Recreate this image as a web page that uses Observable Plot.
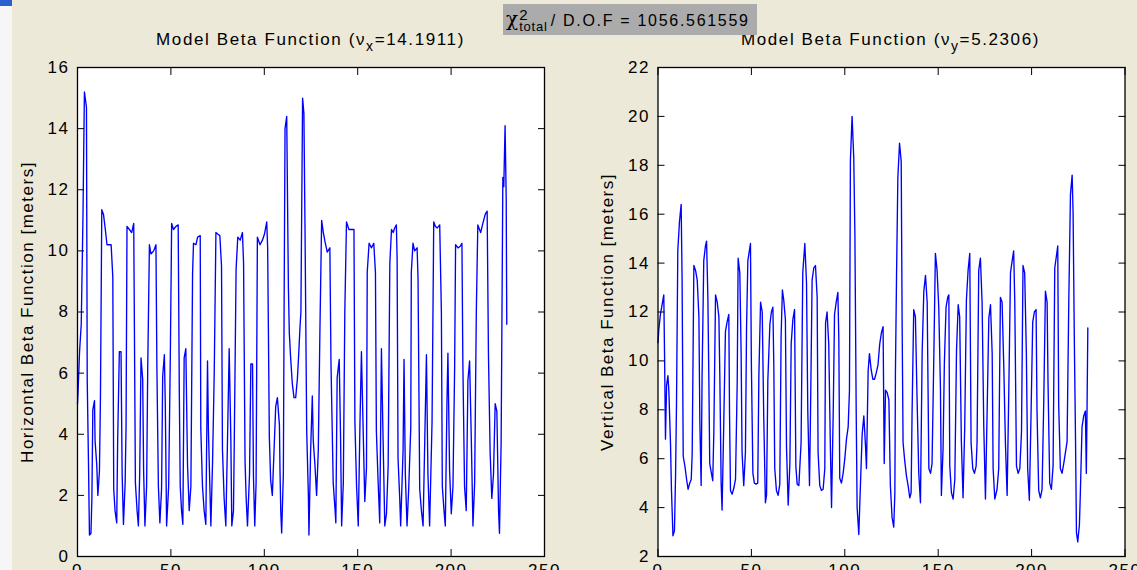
<!DOCTYPE html>
<html>
<head>
<meta charset="utf-8">
<script src="https://cdn.jsdelivr.net/npm/d3@7"></script>
<script src="https://cdn.jsdelivr.net/npm/@observablehq/plot@0.6"></script>
<style>
  html, body { margin: 0; padding: 0; overflow: hidden; }
  #fig { position: relative; width: 1137px; height: 570px; overflow: hidden; background: #ECE9D8;
         font-family: "Liberation Sans", Arial, sans-serif; color: #000; }
  .panel { position: absolute; top: 0; }
  .title { position: absolute; top: 30px; font-size: 17px; letter-spacing: 1.6px; text-align: center; white-space: nowrap; line-height: 20px; }
  .title sub { font-size: 14px; vertical-align: -6px; line-height: 0; }
  #chibox { position: absolute; left: 503px; top: 4px; width: 254px; height: 31px; background: #ababab;
            font-size: 16px; letter-spacing: 1.7px; white-space: nowrap; line-height: 31px; z-index: 5; }
  #chibox .chi { font-family: "DejaVu Serif", serif; font-size: 20px; margin-left: 3px; letter-spacing: 0; }
  #chibox .ss { display: inline-block; vertical-align: middle; line-height: 12px; font-size: 13px; margin-right: 3px; margin-left: 1px; position: relative; top: -1px; letter-spacing: 0.8px; }
  #chibox .ss span { display: block; }
  #chibox .ss span:first-child { font-size: 15px; }
  #leftstrip { position: absolute; left: 0; top: 0; width: 12px; height: 570px; background: #f6f6f6; }
  #bluecorner { position: absolute; left: 0; top: 0; width: 12px; height: 6px; background: #2a5fd0; }
</style>
</head>
<body>
<div id="fig">
  <div id="leftstrip"></div>
  <div id="bluecorner"></div>
  <div id="left" class="panel" style="left:0px"></div>
  <div id="right" class="panel" style="left:580px"></div>
  <div class="title" style="left:77px; width:467px;">Model Beta Function (ν<sub>x</sub>=14.1911)</div>
  <div class="title" style="left:657px; width:467px;">Model Beta Function (ν<sub>y</sub>=5.2306)</div>
  <div id="chibox"><span class="chi">χ</span><span class="ss"><span>2</span><span>total</span></span>/ D.O.F = 1056.561559</div>
</div>
<script>
// ---- data ----
const xTicks = [0, 50, 100, 150, 200, 250];
const hTicks = [0, 2, 4, 6, 8, 10, 12, 14, 16];
const vTicks = [2, 4, 6, 8, 10, 12, 14, 16, 18, 20, 22];

// Horizontal beta function: position index and value [m]
const hIndex = [0,0.3,0.6,1.1,2.0,2.9,3.7,4.8,5.2,5.9,6.4,7.2,7.7,8.2,9.1,9.4,10.3,10.9,11.75,12.3,
13.0,13.9,14.9,15.8,17.0,18.0,18.9,19.4,20.1,21.0,21.5,22.4,23.3,23.9,24.6,25.5,26.0,
26.5,27.8,29.0,30.1,30.4,31.0,31.9,32.6,33.3,34.0,34.9,35.4,36.1,37.0,37.6,
38.5,39.3,40.8,42.0,42.5,43.3,44.1,45.0,45.6,46.5,47.0,47.7,48.8,49.7,
50.4,51.4,52.7,53.9,54.5,55.0,55.7,56.4,57.1,58.0,58.9,59.8,60.7,61.6,
62.1,63.4,64.3,65.7,66.0,66.9,67.8,68.7,69.6,70.1,71.4,72.3,73.2,
74.1,75.0,76.2,77.1,77.6,78.5,79.4,80.3,81.2,82.1,82.6,83.5,83.9,
84.9,85.8,87.1,88.3,88.9,89.7,90.3,91.0,92.1,92.8,93.7,94.2,94.9,95.6,
96.3,97.7,99.0,100.1,101.3,101.8,102.7,103.4,104.3,105.2,106.1,107.0,108.1,108.4,108.8,109.3,110.2,110.6,
111.1,112.0,112.9,113.4,114.1,115.0,115.9,116.8,117.7,118.4,119.1,119.6,
120.5,121.2,121.8,122.7,123.6,123.9,124.8,125.7,126.2,127.1,128.0,128.9,129.8,
130.7,131.6,132.5,133.7,135.1,135.7,136.9,137.8,138.3,139.0,140.1,140.8,141.4,142.3,143.1,
144.0,145.3,146.7,148.0,148.5,149.4,150.3,151.2,152.0,152.9,153.8,154.7,
155.1,156.1,157.4,158.6,159.5,160.0,160.9,161.8,162.7,163.6,164.5,165.4,166.3,
167.2,168.1,169.0,169.8,170.7,171.1,171.6,172.5,173.0,174.3,174.8,175.5,176.4,177.3,178.4,
178.7,179.6,180.5,181.8,182.3,183.2,184.1,185.0,185.9,186.8,187.6,188.5,189.8,
190.7,191.6,192.6,193.9,194.8,195.3,196.2,196.9,197.8,198.3,199.2,200.1,201.0,201.9,
202.4,203.7,204.9,205.8,206.3,207.2,208.1,209.0,209.9,210.8,211.7,212.6,213.5,
214.3,215.8,217.0,218.3,219.3,220.0,220.9,221.8,222.7,223.6,224.5,225.4,225.9,226.8,
227.7,228.2,228.9,229.5,229.8];
const hBeta = [5.0,5.4,5.9,6.7,7.6,11.0,15.2,14.7,5.8,3.0,0.7,0.75,1.9,4.8,5.1,3.8,3.0,2.0,2.8,5.3,
11.35,11.2,10.7,10.2,10.2,10.2,9.15,2.2,1.5,1.1,3.8,6.7,6.7,2.7,1.05,2.4,4.3,
10.8,10.7,10.6,10.9,8.1,2.4,1.5,1.0,2.7,6.5,5.8,2.8,1.0,2.3,6.2,
10.2,9.9,10.0,10.2,6.2,2.3,1.1,2.2,5.9,6.6,5.0,1.0,2.3,6.6,
10.9,10.7,10.8,10.85,5.4,2.3,1.5,1.05,6.5,6.8,3.0,1.5,2.3,9.25,
10.25,10.2,10.45,10.5,4.2,2.3,1.5,1.05,6.4,4.1,1.0,3.1,6.0,
10.6,10.55,10.5,9.5,3.5,1.9,1.0,3.8,6.8,3.8,1.0,1.5,3.6,
9.4,10.45,10.35,10.6,9.6,3.1,1.9,1.0,2.7,6.3,6.3,2.6,1.0,2.4,
10.45,10.2,10.35,10.55,10.95,10.1,3.9,2.5,2.0,3.45,4.9,5.2,4.3,2.85,1.5,0.77,2.7,8.1,
14.0,14.4,8.8,7.3,6.5,5.65,5.2,5.2,5.8,6.6,7.5,8.0,
15.0,14.5,10.7,4.1,2.0,0.7,3.45,5.25,3.8,3.0,2.0,3.45,7.5,
11.0,10.6,10.3,9.96,10.1,6.3,2.4,1.6,1.1,5.85,6.45,4.0,1.0,2.4,8.0,
10.95,10.7,10.7,10.7,4.4,2.3,1.0,4.3,6.7,4.2,1.8,2.9,
9.3,10.25,10.1,10.25,9.3,4.1,2.5,1.1,6.8,3.8,1.0,1.4,2.95,
9.6,10.7,10.6,10.75,10.85,9.75,3.2,1.9,1.0,3.5,6.45,2.7,1.0,2.2,4.2,
9.3,10.25,10.0,10.1,9.1,2.2,1.5,1.0,3.8,6.6,2.7,1.0,4.4,
10.95,10.8,10.75,10.85,8.0,2.3,1.5,1.0,5.1,6.65,2.8,1.4,2.3,6.2,
10.2,10.1,10.15,10.25,6.3,2.3,1.5,5.75,6.4,3.9,1.0,2.4,8.0,
10.85,10.6,10.9,11.2,11.3,6.6,3.4,1.9,2.7,5.0,4.75,1.5,0.76,3.8,
12.4,12.1,14.1,11.7,7.6];

// Vertical beta function: position index and value [m]
const vIndex = [0,0.45,1.3,2.2,3.1,3.5,4.0,4.6,5.3,5.8,6.7,7.2,8.0,8.8,9.4,9.9,10.6,11.5,12.4,12.9,
13.5,14.4,15.3,16.1,17.0,17.8,18.3,19.2,20.1,21.0,21.9,22.4,23.1,23.6,24.5,25.4,26.0,26.7,27.2,
27.7,28.6,29.3,29.9,30.8,31.7,32.6,33.1,33.8,34.3,35.2,36.1,37.0,37.9,38.3,38.8,39.7,40.6,41.5,
42.4,42.9,43.8,44.5,45.0,45.9,46.8,47.4,48.1,49.0,49.5,50.0,50.8,51.6,52.5,53.4,54.0,54.9,55.8,
56.6,57.5,58.1,58.8,59.9,60.7,61.5,62.0,62.5,63.4,64.3,65.2,65.9,66.6,67.3,68.2,68.8,69.7,70.6,
71.3,72.2,73.1,73.8,74.5,75.4,76.6,77.5,78.6,79.5,80.2,81.1,81.6,82.5,83.4,84.3,85.2,85.7,86.6,
87.5,88.4,89.3,89.7,90.5,91.4,92.3,92.9,93.8,94.5,95.4,96.3,96.8,97.3,98.2,99.1,100.0,100.9,101.8,
102.5,103.0,103.9,104.8,105.4,106.1,106.6,107.5,108.4,109.3,110.2,111.1,111.6,112.5,113.2,114.1,
115.0,115.9,116.8,117.8,118.7,119.6,120.5,121.1,121.8,122.7,123.6,124.4,125.3,126.2,126.8,127.1,
127.7,128.4,129.3,130.2,130.7,131.2,132.1,133.0,133.9,134.8,135.5,136.0,136.9,137.8,138.7,139.6,
140.5,141.4,142.3,143.2,144.1,145.0,145.9,146.7,147.6,148.5,149.4,150.3,151.2,151.7,152.6,153.3,
154.2,155.1,155.7,156.2,157.1,158.0,158.9,159.8,160.7,161.5,162.4,163.3,164.2,165.1,166.0,166.9,
167.6,168.5,169.4,170.3,170.8,171.7,172.6,173.5,174.4,175.3,176.2,177.1,178.0,178.9,179.4,180.3,
181.5,182.4,183.3,184.2,185.1,186.0,186.9,187.8,188.7,189.6,190.4,191.0,191.9,192.8,193.7,194.6,
195.4,196.3,197.2,197.9,198.8,199.7,200.6,201.5,202.4,202.9,203.8,204.7,205.6,206.5,207.4,208.3,
208.8,209.7,210.6,211.5,212.4,213.3,214.0,214.5,215.4,216.3,217.2,218.1,219.0,219.9,220.8,221.7,
222.2,222.9,223.5,224.0,224.7,225.6,226.1,227.0,227.9,228.8,229.3,229.7,230.1];
const vBeta = [10.74,11.3,11.9,12.3,12.7,10.3,6.8,9.0,9.4,8.8,6.6,4.75,2.85,3.05,5.3,8.2,14.5,15.7,16.4,13.3,
6.1,5.7,5.16,4.75,5.0,5.16,6.2,13.9,13.7,13.3,11.8,7.5,4.9,9.4,14.1,14.7,14.9,12.6,9.4,
5.8,5.4,5.1,7.1,12.7,12.4,11.8,9.4,5.0,3.9,7.4,11.2,11.6,11.9,7.8,4.7,4.55,4.8,5.16,
9.1,14.2,13.6,10.3,6.25,4.9,6.25,11.35,14.1,14.55,14.8,9.8,5.4,5.0,4.96,5.0,9.4,12.4,12.0,
7.75,4.2,4.5,9.2,11.5,12.0,12.2,9.8,5.6,4.7,4.5,4.96,11.0,12.9,12.5,11.7,6.45,4.1,5.8,
10.7,11.7,12.1,5.7,4.96,4.9,6.65,13.6,14.8,13.2,7.9,4.9,7.6,13.3,13.8,13.9,12.6,6.25,4.9,
4.7,4.75,5.6,11.55,12.0,10.7,6.4,4.0,7.9,11.9,12.4,12.8,10.9,5.2,5.0,5.4,6.0,6.8,7.3,
8.8,18.2,20.0,18.3,15.2,7.95,4.0,2.9,5.0,7.0,7.75,6.5,5.6,9.6,10.3,9.65,
9.25,9.25,9.5,9.85,10.7,11.15,11.4,5.8,8.8,8.7,8.4,4.9,3.6,3.2,4.6,9.5,
13.5,17.5,18.9,18.15,11.4,6.65,5.9,5.3,4.9,4.4,4.6,7.8,12.1,11.8,8.4,5.4,
4.2,10.3,12.85,13.5,12.4,5.6,5.4,5.8,9.9,14.4,13.7,12.2,8.9,4.5,6.4,9.9,
12.2,12.6,12.7,5.7,4.6,4.35,5.16,10.4,12.3,11.8,6.7,4.4,7.3,12.5,13.7,14.4,
6.65,5.6,5.4,5.7,6.65,13.7,14.2,12.4,7.3,4.35,7.95,11.75,12.3,10.3,5.6,4.35,
4.75,5.6,12.6,12.4,9.8,6.6,4.5,8.8,13.6,14.1,14.5,12.4,5.7,5.4,5.6,7.1,
13.9,13.6,10.3,5.6,4.3,7.8,11.6,12.0,12.1,7.95,4.7,4.4,4.75,8.3,12.85,12.4,
9.1,5.0,4.75,5.7,13.8,14.3,14.7,8.2,5.6,5.4,5.8,6.25,6.7,12.4,16.8,17.6,
16.1,10.7,6.9,3.0,2.6,3.3,4.6,7.3,7.75,7.95,5.4,8.2,11.35];

// ---- chart ----
const FONT = "'Liberation Sans', Arial, sans-serif";

function panel({index, values, yDomain, yTicks, yLabel, width, marginLeft, marginRight}) {
  const data = index.map((x, i) => ({x, y: values[i]}));
  const blank = () => "";
  return Plot.plot({
    width, height: 570,
    marginLeft, marginRight, marginTop: 67, marginBottom: 14,
    style: {background: "transparent", fontFamily: FONT, fontSize: "17px", color: "#000", overflow: "visible", letterSpacing: "1.5px"},
    x: {domain: [0, 250]},
    y: {domain: yDomain},
    marks: [
      Plot.frame({fill: "#ffffff", stroke: null}),
      Plot.line(data, {x: "x", y: "y", stroke: "#0000ff", strokeWidth: 1.35}),
      Plot.axisX({anchor: "bottom", ticks: xTicks, tickSize: -7, tickFormat: blank, label: null, stroke: "#000"}),
      Plot.axisX({anchor: "top", ticks: xTicks, tickSize: -7, tickFormat: blank, label: null, stroke: "#000"}),
      Plot.axisX({anchor: "bottom", ticks: xTicks, tickSize: 0, tickPadding: 7, label: null}),
      Plot.axisY({anchor: "left", ticks: yTicks, tickSize: -7, tickFormat: blank, label: null, stroke: "#000"}),
      Plot.axisY({anchor: "right", ticks: yTicks, tickSize: -7, tickFormat: blank, label: null, stroke: "#000"}),
      Plot.axisY({anchor: "left", ticks: yTicks, tickSize: 0, tickPadding: 8,
                  label: yLabel, labelAnchor: "center", labelArrow: "none", labelOffset: 57}),
      Plot.frame({stroke: "#000", strokeWidth: 1.3})
    ]
  });
}

document.getElementById("left").append(panel({
  index: hIndex, values: hBeta, yDomain: [0, 16], yTicks: hTicks,
  yLabel: "Horizontal Beta Function [meters]", width: 600, marginLeft: 77, marginRight: 56
}));
document.getElementById("right").append(panel({
  index: vIndex, values: vBeta, yDomain: [2, 22], yTicks: vTicks,
  yLabel: "Vertical Beta Function [meters]", width: 557, marginLeft: 77.5, marginRight: 12.5
}));
</script>
</body>
</html>
